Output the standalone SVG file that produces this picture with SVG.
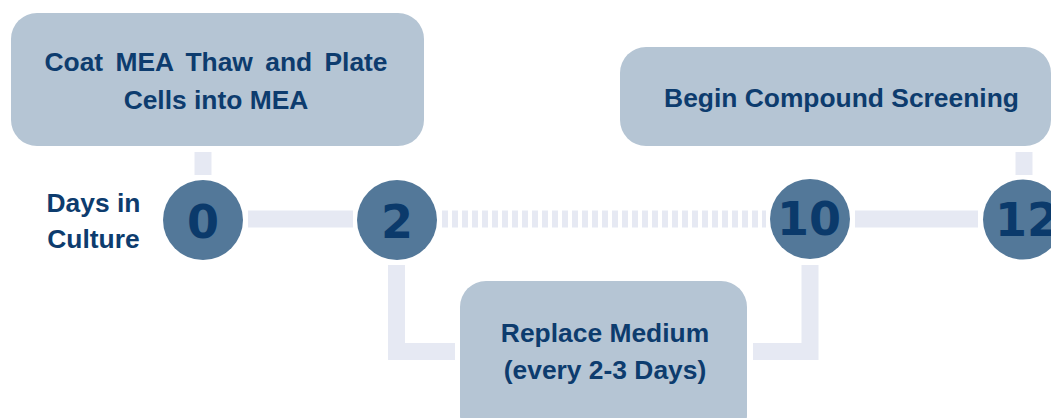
<svg xmlns="http://www.w3.org/2000/svg" width="1051" height="418" viewBox="0 0 1051 418">
  <style>
    .box { fill: #b5c5d4; }
    .day { fill: #537899; }
    .link { fill: none; stroke: #e6e9f3; stroke-width: 17; }
    .dotted { stroke-dasharray: 6 4; }
    .label { font-family: "Liberation Sans", Arial, sans-serif; font-weight: bold; font-size: 26.4px; fill: #0d3c6e; text-anchor: middle; }
    .num { font-family: "DejaVu Sans", Verdana, sans-serif; font-weight: bold; font-size: 46px; fill: #0b3a6b; text-anchor: middle; }
  </style>
  <rect width="1051" height="418" fill="#ffffff"/>

  <!-- connectors between steps and days -->
  <g id="connectors">
    <line class="link" x1="203" y1="152" x2="203" y2="175"/>
    <line class="link" x1="248" y1="219" x2="353" y2="219"/>
    <line class="link dotted" x1="442" y1="219" x2="766" y2="219"/>
    <line class="link" x1="855" y1="219" x2="978" y2="219"/>
    <line class="link" x1="1024" y1="152" x2="1024" y2="175"/>
    <polyline class="link" points="396.5,265 396.5,351.5 455,351.5"/>
    <polyline class="link" points="810,265 810,351.5 753,351.5"/>
  </g>

  <g id="step-plate">
    <rect class="box" x="11" y="13" width="413" height="133" rx="26"/>
    <text class="label" x="216" y="71" word-spacing="5">Coat MEA Thaw and Plate</text>
    <text class="label" x="216" y="109">Cells into MEA</text>
  </g>

  <g id="step-screening">
    <rect class="box" x="620" y="47" width="431" height="99" rx="26"/>
    <text class="label" x="841.5" y="107" font-size="27.2">Begin Compound Screening</text>
  </g>

  <g id="step-medium">
    <rect class="box" x="460" y="281" width="287" height="160" rx="26"/>
    <text class="label" x="605" y="342">Replace Medium</text>
    <text class="label" x="605" y="379">(every 2-3 Days)</text>
  </g>

  <g id="axis-label">
    <text class="label" x="93.5" y="212">Days in</text>
    <text class="label" x="93.5" y="248">Culture</text>
  </g>

  <g id="day-0">
    <circle class="day" cx="203" cy="220" r="40"/>
    <text class="num" x="203" y="238">0</text>
  </g>
  <g id="day-2">
    <circle class="day" cx="397" cy="220" r="40"/>
    <text class="num" x="397" y="238">2</text>
  </g>
  <g id="day-10">
    <circle class="day" cx="810" cy="219" r="40"/>
    <text class="num" x="809" y="235">10</text>
  </g>
  <g id="day-12">
    <circle class="day" cx="1023" cy="219.5" r="40"/>
    <text class="num" x="1027" y="236">12</text>
  </g>
</svg>
